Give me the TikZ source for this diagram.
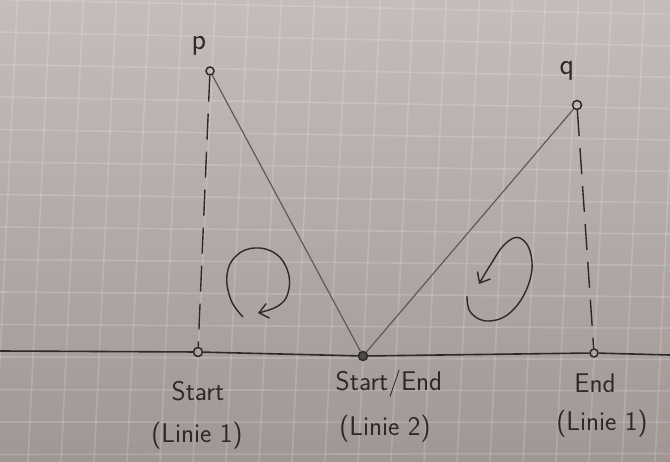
\documentclass[tikz,border=0pt]{standalone}
\usetikzlibrary{arrows.meta}
\definecolor{papertop}{RGB}{196,189,187}
\definecolor{paperbot}{RGB}{160,151,148}
\definecolor{ink}{RGB}{45,41,41}
\definecolor{pencil}{RGB}{95,89,89}
\begin{document}
\begin{tikzpicture}[x=1pt,y=-1pt,
  pt/.style={circle,draw=ink,line width=1.5pt,minimum size=9pt,inner sep=0pt},
  lbl/.style={text=ink,font=\sffamily\fontsize{27}{30}\selectfont,inner sep=0pt},
  letter/.style={text=ink,font=\sffamily\fontsize{30}{33}\selectfont,inner sep=0pt},
  gridline/.style={white,opacity=0.16,line width=1.6pt},
  dashline/.style={ink,line width=1.4pt,dash pattern=on 26pt off 12pt},
  slant/.style={pencil,line width=1.2pt},
  loop/.style={ink,line width=1.4pt,-{Straight Barb[length=9pt,width=15pt]}}]
\useasboundingbox (0,0) rectangle (670,462);
\shade[top color=papertop,bottom color=paperbot] (0,0) rectangle (670,462);
\begin{scope}
  \clip (0,0) rectangle (670,462);
  \foreach \k in {-1,...,21} {
    \draw[gridline] ({17.4+33*\k},0) -- ({-5+33*\k},462);
  }
  \foreach \j in {0,...,14} {
    \pgfmathsetmacro\yl{-0.5+32.5*\j}
    \pgfmathsetmacro\yr{\yl+15-0.035*\yl}
    \draw[gridline] (0,\yl) -- (670,\yr);
  }
\end{scope}
% points
\node[pt,minimum size=8pt] (p) at (210,71) {};
\node[pt] (q) at (577,105) {};
\node[pt] (s) at (198,352) {};
\node[pt,fill=ink!85] (m) at (363,356) {};
\node[pt,minimum size=8pt] (e) at (594,353) {};
\coordinate (L) at (0,351);
\coordinate (R) at (670,355);
% labels
\node[letter] (lp) at (199,46) {p};
\node[letter] (lq) at (567,71) {q};
\node[lbl] (t1) at (198,391) {Start};
\node[lbl] (t2) at (197,436) {(Linie 1)};
\node[lbl] (t3) at (389,384) {Start/End};
\node[lbl] (t4) at (385,429) {(Linie 2)};
\node[lbl] (t5) at (595,383) {End};
\node[lbl] (t6) at (602,424) {(Linie 1)};
% lines
\draw[ink,line width=1.6pt] (L) -- (s) -- (m) -- (e) -- (R);
\draw[slant] (p) -- (m) -- (q);
\draw[dashline] (p) -- (s);
\draw[dashline] (q) -- (e);
% rotation arrows
\draw[loop] plot[smooth,tension=0.7] coordinates {(243,317) (231,300) (227,275) (236,256) (255,248) (276,254) (288,272) (288,293) (278,306) (258,313)};
\draw[loop] plot[smooth,tension=0.7] coordinates {(467,296) (471,313) (489,321) (512,311) (529,283) (531,255) (520,238) (505,244) (491,264) (479,284)};
\end{tikzpicture}
\end{document}
